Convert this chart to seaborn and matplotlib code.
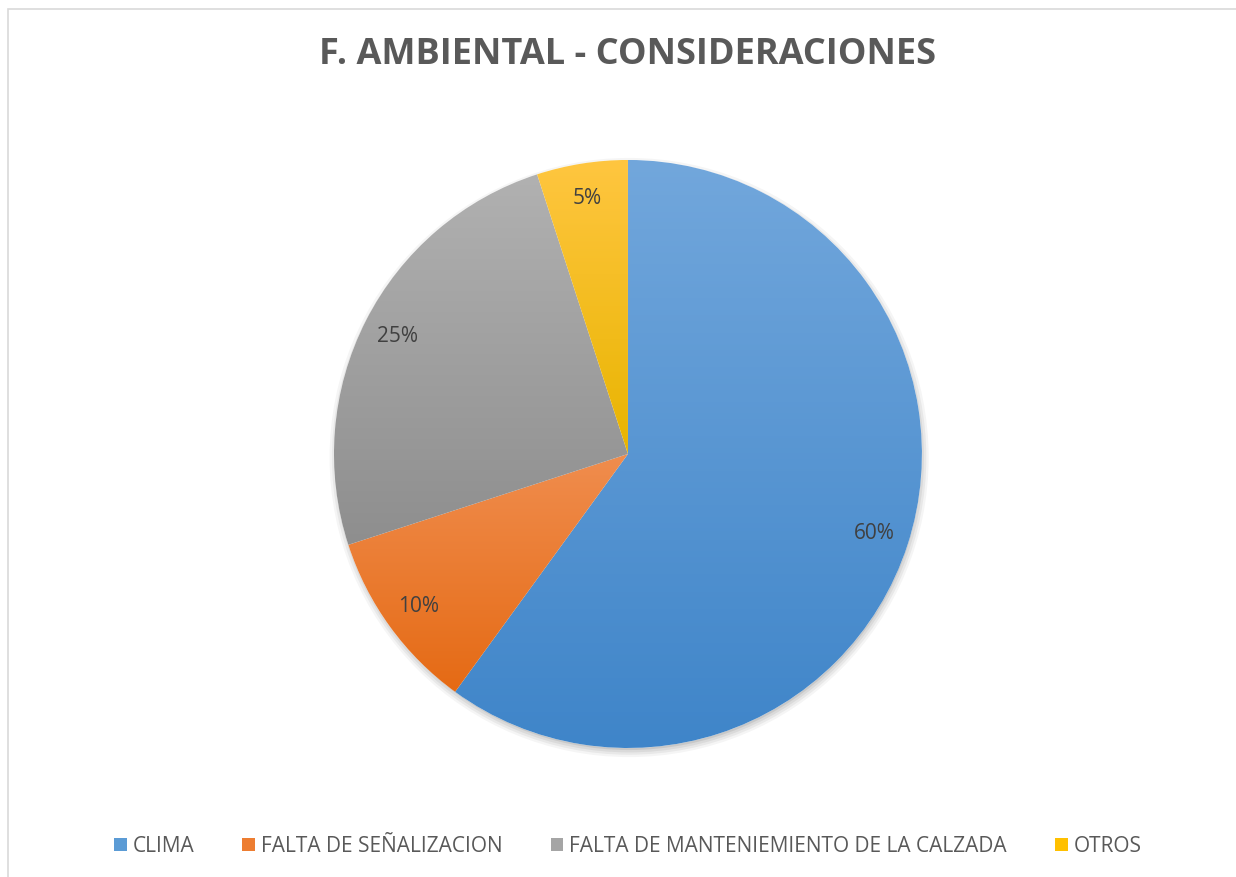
import numpy as np
import matplotlib
matplotlib.use("Agg")
import matplotlib.pyplot as plt
import seaborn as sns
from matplotlib.colors import LinearSegmentedColormap
from matplotlib.patches import Rectangle, Patch, Circle

# Data
categorias = ["CLIMA", "FALTA DE SEÑALIZACION", "FALTA DE MANTENIEMIENTO DE LA CALZADA", "OTROS"]
valores = [60, 10, 25, 5]
titulo = "F. AMBIENTAL - CONSIDERACIONES"

# Excel-like colours: (top of slice, bottom of slice, legend colour)
tonos = [("#72A7DC", "#3F85C9", "#5B9BD5"),
         ("#F08D4E", "#E56A14", "#ED7D31"),
         ("#B1B1B1", "#8E8E8E", "#A5A5A5"),
         ("#FFC640", "#E8B400", "#FFC000")]

sns.set_theme(style="white")
plt.rcParams["font.family"] = ["Open Sans", "DejaVu Sans"]

fig = plt.figure(figsize=(12.36, 8.77), dpi=100)
fig.patch.set_facecolor("white")

# chart area border (only top/left visible in reference)
fig.patches.append(Rectangle((8 / 1236, -0.05), 1.2, 1 - 9 / 877 + 0.05,
                             transform=fig.transFigure, fill=False,
                             edgecolor="#D9D9D9", linewidth=1.2, zorder=0))

ax = fig.add_axes([0.2702, 0.1471, 0.4757, 0.6705])
ax.set_aspect("equal")

# soft shadow under the pie
for i, a in enumerate([0.04, 0.05, 0.06, 0.08]):
    ax.add_patch(Circle((0.004, -0.012), 0.995 + 0.008 * (3 - i), color="#000000",
                        alpha=a, lw=0, zorder=0, clip_on=False))

wedges, _, autotexts = ax.pie(valores, startangle=90, counterclock=False, radius=1,
                              autopct="%1.0f%%", pctdistance=0.88,
                              colors=[t[2] for t in tonos],
                              wedgeprops=dict(edgecolor="none", linewidth=0),
                              textprops=dict(color="#404040", fontsize=15))

ax.add_patch(Circle((0, 0), 1.0, color="white", lw=0, zorder=0.5))

# vertical gradient fill on each slice
for w, (top, bot, _) in zip(wedges, tonos):
    ext = w.get_path().get_extents()
    cmap = LinearSegmentedColormap.from_list("g", [top, bot])
    grad = np.linspace(0, 1, 256).reshape(-1, 1)
    im = ax.imshow(grad, cmap=cmap, aspect="auto", origin="upper",
                   extent=[ext.x0, ext.x1, ext.y0, ext.y1], zorder=1)
    im.set_clip_path(w)
    w.set_facecolor("none")
    w.set_zorder(2)

for t in autotexts:
    t.set_zorder(3)

ax.set_xlim(-1, 1)
ax.set_ylim(-1, 1)
ax.axis("off")

fig.text(0.508, 1 - 55 / 877, titulo, ha="center", va="center",
         fontsize=26, fontweight="bold", color="#595959")

handles = [Patch(facecolor=t[2], edgecolor="none") for t in tonos]
fig.legend(handles, categorias, loc="center", bbox_to_anchor=(0.508, 1 - 846 / 877),
           ncol=4, frameon=False, fontsize=15, handlelength=0.6, handleheight=0.6,
           handletextpad=0.3, columnspacing=2.3, labelcolor="#595959")

fig.savefig("out.png", dpi=100)
